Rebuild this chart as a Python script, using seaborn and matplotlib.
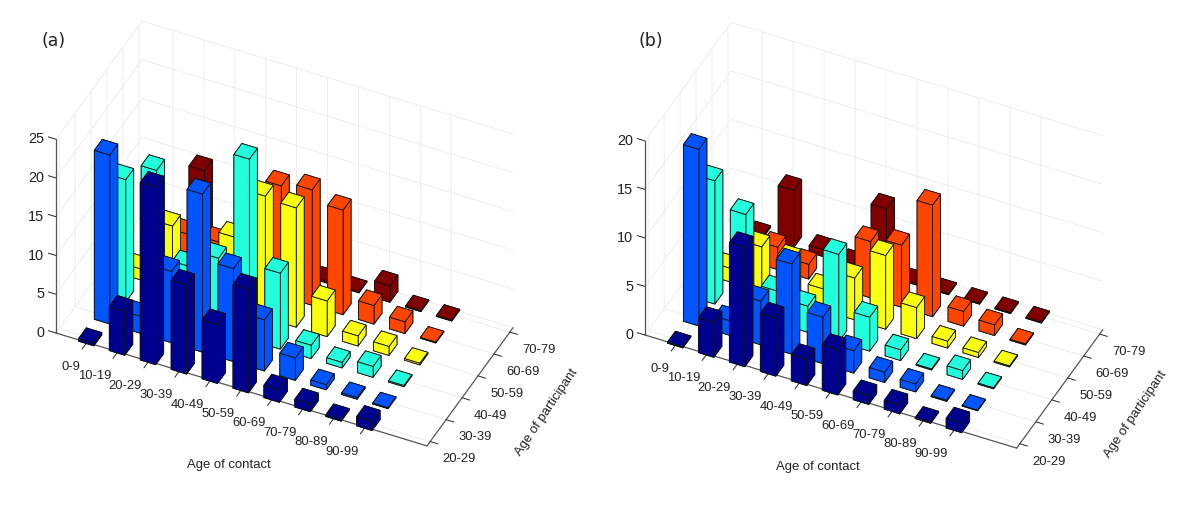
import matplotlib
matplotlib.use("Agg")
import matplotlib.pyplot as plt
import numpy as np
import seaborn as sns
from mpl_toolkits.mplot3d import proj3d

contact_ages = ["0-9", "10-19", "20-29", "30-39", "40-49", "50-59", "60-69", "70-79", "80-89", "90-99"]
participant_ages = ["20-29", "30-39", "40-49", "50-59", "60-69", "70-79"]
row_hex = ["#00008F", "#0055FF", "#22FFDD", "#F8FF10", "#FF4600", "#800000"]

a_2029 = [0.3, 5.7, 22.9, 11.5, 7.6, 13.4, 1.6, 1.0, 0.2, 1.2]
a_3039 = [21.8, 2.2, 9.2, 20.4, 12.0, 6.6, 2.9, 0.65, 0.2, 0.1]
a_4049 = [15.8, 18.2, 7.1, 9.3, 23.3, 9.8, 1.7, 0.7, 1.4, 0.15]
a_5059 = [1.4, 8.2, 5.3, 9.2, 15.7, 15.4, 4.6, 1.3, 1.15, 0.2]
a_6069 = [1.0, 4.3, 4.5, 3.4, 14.2, 14.9, 13.5, 2.4, 1.5, 0.1]
a_7079 = [0.5, 9.7, 0.5, 0.5, 0.5, 0.2, 0.1, 2.1, 0.1, 0.1]

b_2029 = [0.1, 3.6, 12.3, 6.0, 2.7, 4.7, 0.9, 0.9, 0.1, 1.0]
b_3039 = [18.2, 1.5, 4.5, 9.3, 4.8, 2.3, 1.05, 0.8, 0.1, 0.05]
b_4049 = [12.7, 10.2, 3.3, 2.7, 9.0, 3.5, 1.1, 0.1, 0.9, 0.1]
b_5059 = [1.4, 4.6, 4.2, 2.2, 4.3, 7.6, 3.2, 0.7, 0.5, 0.1]
b_6069 = [0.5, 2.3, 1.5, 1.3, 5.8, 6.4, 11.5, 1.5, 1.1, 0.1]
b_7079 = [0.15, 5.9, 0.7, 0.2, 6.9, 0.15, 0.1, 0.1, 0.1, 0.1]

panel_a = [a_2029, a_3039, a_4049, a_5059, a_6069, a_7079]
panel_b = [b_2029, b_3039, b_4049, b_5059, b_6069, b_7079]

sns.set_theme(style="white")
plt.rcParams["font.family"] = ["Liberation Sans", "DejaVu Sans"]
palette = sns.color_palette(row_hex)

W, H = 1200, 505
fig = plt.figure(figsize=(W / 100, H / 100), dpi=100, facecolor="white")
ASPECT = (410, 202, 254)
TEXT = "#222222"
LINE = "#555555"
GRID = "#ebebeb"
Y0, Y1 = 0.8, 6.2


def to_px(ax, x, y, z):
    xs, ys, _ = proj3d.proj_transform(x, y, z, ax.get_proj())
    return ax.transData.transform((xs, ys))


def draw_panel(values, zmax, zstep, corners, tag, tag_xy, xlabel_xy, ylabel_xy):
    size = 560
    fl, fr = np.array(corners[0], float), np.array(corners[1], float)
    cx = (fl[0] + fr[0]) / 2
    ax = fig.add_axes([(cx - size / 2) / W, 0.0, size / W, size / H], projection="3d", proj_type="ortho",
                      computed_zorder=False)
    ax.patch.set_alpha(0)
    ax.view_init(elev=40.3, azim=-64.8)
    ax.set_xlim(0, 12, view_margin=0)
    ax.set_ylim(Y0, Y1, view_margin=0)
    ax.set_zlim(0, zmax, view_margin=0)
    ax.set_box_aspect(ASPECT, zoom=1.0)

    ax.set_xticks(range(1, 11))
    ax.set_xticklabels(contact_ages, fontsize=9.4, color=TEXT, ha="right", va="center")
    ax.set_yticks(range(1, 7))
    ax.set_yticklabels(participant_ages, fontsize=9.4, color=TEXT, va="bottom")
    ax.set_zticks(np.arange(0, zmax + 1, zstep))
    ax.set_zticklabels([str(v) for v in np.arange(0, zmax + 1, zstep)], fontsize=10.4, color=TEXT, ha="right", va="center")
    ax.tick_params(axis="x", pad=8.5)
    ax.tick_params(axis="y", pad=8.3)
    ax.tick_params(axis="z", pad=-2.5)
    ax.zaxis.set_ticks_position("lower")
    ax.zaxis._get_tickdir = lambda pos: 0
    tick_factors = {ax.xaxis: (0.7, 0.0), ax.yaxis: (0.26, 0.0), ax.zaxis: (0.0, 0.26)}
    for axis, (inward, outward) in tick_factors.items():
        axis.set_pane_color((1, 1, 1, 0))
        axis.pane.set_edgecolor(GRID)
        axis.line.set_color(LINE)
        axis.line.set_linewidth(0.9)
        axis._axinfo["grid"].update(color=GRID, linewidth=0.6)
        axis._axinfo["tick"].update(color=LINE, linewidth={True: 0.7, False: 0.7}, inward_factor=inward, outward_factor=outward)
    ax.grid(True)

    order = 0
    for row in range(5, -1, -1):
        for col in range(10):
            order += 1
            ax.bar3d(col + 0.75, row + 0.75, 0, 0.5, 0.5, values[row][col], color=palette[row],
                     edgecolor="#111111", linewidth=0.6, shade=False, zorder=order)

    fig.canvas.draw()
    length = np.linalg.norm(to_px(ax, 12, Y0, 0) - to_px(ax, 0, Y0, 0))
    target = np.linalg.norm(fr - fl)
    ax.set_box_aspect(ASPECT, zoom=target / length)
    fig.canvas.draw()
    now = to_px(ax, 0, Y0, 0)
    want = np.array([fl[0], H - fl[1]])
    pos = ax.get_position()
    ax.set_position([pos.x0 + (want[0] - now[0]) / W, pos.y0 + (want[1] - now[1]) / H, pos.width, pos.height])

    fig.text(tag_xy[0] / W, 1 - tag_xy[1] / H, tag, fontsize=12.5, family="DejaVu Sans", color=TEXT, ha="center", va="center")
    fig.text(xlabel_xy[0] / W, 1 - xlabel_xy[1] / H, "Age of contact", fontsize=9.45, color=TEXT, ha="center", va="center")
    fig.text(ylabel_xy[0] / W, 1 - ylabel_xy[1] / H, "Age of participant", fontsize=9.45, color=TEXT, ha="center", va="center",
             rotation=56, rotation_mode="anchor")


draw_panel(panel_a, 25, 5, [(56, 333), (427, 446)], "(a)", (54, 41), (229, 465), (547, 412))
draw_panel(panel_b, 20, 5, [(645, 335), (1017, 447)], "(b)", (651, 41), (818, 467), (1136, 414))

fig.savefig("out.png", dpi=100)
